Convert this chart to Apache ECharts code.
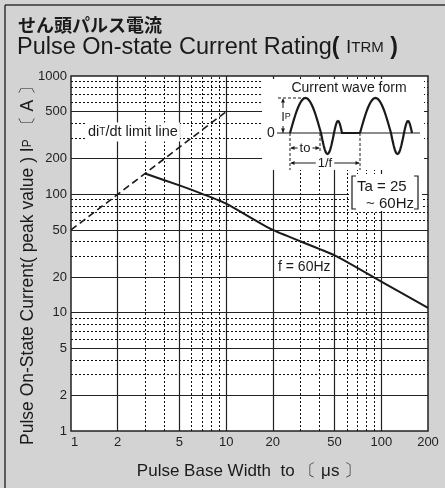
<!DOCTYPE html>
<html><head><meta charset="utf-8">
<script src="https://cdn.jsdelivr.net/npm/echarts@6/dist/echarts.min.js"></script>
<style>html,body{margin:0;padding:0;background:#d3d3d3}#c{width:445px;height:488px}</style>
</head><body><div id="c"></div>
<script>
// ---- data ----
const xTickLabels = [1, 2, 5, 10, 20, 50, 100, 200];
const yTickLabels = [1, 2, 5, 10, 20, 50, 100, 200, 500, 1000];
const xMajorGrid = [2, 5, 10, 20, 50, 100];
const xMinorGrid = [3, 4, 6, 7, 8, 9, 30, 40, 60, 70, 80, 90];
const yMajorGrid = [2, 5, 10, 20, 50, 100, 200, 500];
const yMinorGrid = [3, 4, 6, 7, 8, 9, 30, 40, 60, 70, 80, 90, 300, 400, 600, 700, 800, 900];
const pulseWidth = [3, 5, 7, 10, 20, 50, 100, 200];
const peakCurrent = [150, 119, 101, 83.5, 50, 30.5, 18.3, 11];
const limitWidth = [1, 10];
const limitCurrent = [50, 500];

const NARROW = '"Liberation Sans Narrow", "Liberation Sans", Arial, sans-serif';
const SANS = '"Liberation Sans", Arial, sans-serif';
const INK = '#1a1a1a';

const chart = echarts.init(document.getElementById('c'), null, {renderer: 'canvas'});

function gridLines(vals, axis) {
  return vals.map(v => axis === 'x' ? {xAxis: v} : {yAxis: v});
}

// ---- inset waveform (schematic illustration) ----
const Z = 50;
const y0 = 133;
function halfWave(xa, xb, amp, n) {
  const pts = [];
  for (let i = 0; i <= n; i++) {
    const t = i / n;
    pts.push([xa + (xb - xa) * t, y0 - amp * Math.sin(Math.PI * t)]);
  }
  return pts;
}
function wavePts(off) {
  let p = [];
  p = p.concat(halfWave(290 + off, 321 + off, 35, 24));
  p = p.concat(halfWave(321 + off, 334 + off, -21, 14).slice(1));
  p = p.concat(halfWave(334 + off, 342 + off, 12, 10).slice(1));
  return p;
}
const w1 = wavePts(0).concat([[360, y0]]);
const w2 = wavePts(70);
function arrowHead(x, y, dir) {
  const s = 4, h = 2;
  let pts;
  if (dir === 'l') pts = [[x, y], [x + s, y - h], [x + s, y + h]];
  if (dir === 'r') pts = [[x, y], [x - s, y - h], [x - s, y + h]];
  if (dir === 'u') pts = [[x, y], [x - h, y + s], [x + h, y + s]];
  if (dir === 'd') pts = [[x, y], [x - h, y - s], [x + h, y - s]];
  return {type: 'polygon', z: Z + 2, shape: {points: pts}, style: {fill: INK}};
}
function line(pts, w, dash) {
  return {type: 'polyline', z: Z + 1, shape: {points: pts}, style: {stroke: INK, lineWidth: w, fill: null, lineDash: dash || null}};
}
function txt(x, y, text, size, align, bg) {
  const st = {text: text, fill: INK, font: size + 'px ' + NARROW, textAlign: align || 'left', textVerticalAlign: 'middle'};
  if (bg) { st.backgroundColor = '#fff'; st.padding = [0, 2]; }
  return {type: 'text', z: Z + 3, x: x, y: y, style: st};
}

const graphics = [
  // outer frame lines
  {type: 'line', z: Z, shape: {x1: 5, y1: 5, x2: 445, y2: 5}, style: {stroke: '#333', lineWidth: 1.5}},
  {type: 'line', z: Z, shape: {x1: 5, y1: 5, x2: 5, y2: 488}, style: {stroke: '#333', lineWidth: 1.5}},
  // titles
  {type: 'text', z: Z, x: 18, y: 25, style: {text: 'せん頭パルス電流', fill: INK,
    font: 'bold 18px "Noto Sans CJK JP", sans-serif', textVerticalAlign: 'middle'}},
  {type: 'text', z: Z, x: 17, y: 48, style: {
    text: '{a|Pulse On-state Current Rating}{p|(}{a| }{i|I}{t|TRM}{p| )}',
    textVerticalAlign: 'middle',
    rich: {
      a: {font: '23.5px ' + SANS, fill: INK},
      p: {font: 'bold 23px ' + SANS, fill: INK},
      i: {font: '19px ' + SANS, fill: INK},
      t: {font: '15px ' + SANS, fill: INK}
    }}},
  // axis names
  {type: 'text', z: Z, x: 28, y: 261, rotation: Math.PI / 2, style: {
    text: '{a|Pulse On-State Current( peak value ) I}{s|P}{a| 〔 A 〕}',
    textAlign: 'center', textVerticalAlign: 'middle',
    rich: {a: {font: '17.5px ' + SANS, fill: INK}, s: {font: '12px ' + SANS, fill: INK}}}},
  {type: 'text', z: Z, x: 249, y: 471, style: {
    text: 'Pulse Base Width  to 〔 μs 〕', font: '17px ' + SANS, fill: INK,
    textAlign: 'center', textVerticalAlign: 'middle'}},
  // annotation labels
  {type: 'text', z: Z, x: 86, y: 132, style: {
    text: '{a|di}{s|T}{a|/dt limit line}', textVerticalAlign: 'middle',
    backgroundColor: '#fff', padding: [2, 2, 2, 2],
    rich: {a: {font: '14.5px ' + NARROW, fill: INK}, s: {font: '10px ' + NARROW, fill: INK}}}},
  {type: 'text', z: Z, x: 277, y: 267, style: {
    text: 'f = 60Hz', font: '14px ' + NARROW, fill: INK, textVerticalAlign: 'middle',
    backgroundColor: '#fff', padding: [2, 1, 2, 1]}},
  // Ta box
  {type: 'rect', z: Z, shape: {x: 349, y: 174, width: 73, height: 37}, style: {fill: '#fff'}},
  line([[356, 176], [352, 176], [352, 209], [356, 209]], 1.2),
  line([[414, 176], [418, 176], [418, 209], [414, 209]], 1.2),
  txt(357, 187, 'Ta = 25', 15, 'left'),
  txt(414, 204, '~ 60Hz', 15, 'right'),
  // waveform inset
  {type: 'rect', z: Z, shape: {x: 262, y: 79, width: 162, height: 91}, style: {fill: '#fff'}},
  txt(349, 88, 'Current wave form', 14, 'center'),
  txt(271, y0, '0', 14, 'center'),
  line([[277, y0], [420, y0]], 1.2),
  line(w1, 2.2),
  line(w2, 2.2),
  // Ip indicator
  line([[278, 98], [306, 98]], 1, [3, 2]),
  line([[283, 99], [283, 108]], 1),
  line([[283, 126], [283, 133]], 1),
  arrowHead(283, 98.5, 'u'),
  arrowHead(283, 132.5, 'd'),
  {type: 'text', z: Z + 3, x: 286, y: 117, style: {text: '{a|I}{s|P}', textAlign: 'center', textVerticalAlign: 'middle',
    rich: {a: {font: '13px ' + NARROW, fill: INK}, s: {font: '9px ' + NARROW, fill: INK}}}},
  // to / 1/f
  line([[290, y0], [290, 170]], 1, [3, 2]),
  line([[320, y0], [320, 152]], 1, [3, 2]),
  line([[360, y0], [360, 170]], 1, [3, 2]),
  line([[291, 148], [319, 148]], 1),
  arrowHead(290.5, 148, 'l'), arrowHead(319.5, 148, 'r'),
  txt(305, 148, 'to', 13, 'center', true),
  line([[291, 163], [359, 163]], 1),
  arrowHead(290.5, 163, 'l'), arrowHead(359.5, 163, 'r'),
  txt(325, 163, '1/f', 13, 'center', true)
];

const option = {
  backgroundColor: '#d3d3d3',
  animation: false,
  grid: {left: 71, right: 17, top: 76, bottom: 57, show: true, backgroundColor: '#fff',
    borderColor: '#222', borderWidth: 1.5},
  xAxis: {
    type: 'log', logBase: 10, min: 1, max: 200,
    axisLine: {show: false}, axisTick: {show: false}, splitLine: {show: false}, minorTick: {show: false},
    axisLabel: {customValues: xTickLabels, color: '#222', fontSize: 13, fontFamily: NARROW, margin: 5,
      alignMinLabel: 'left', formatter: v => String(v)}
  },
  yAxis: {
    type: 'log', logBase: 10, min: 1, max: 1000,
    axisLine: {show: false}, axisTick: {show: false}, splitLine: {show: false}, minorTick: {show: false},
    axisLabel: {customValues: yTickLabels, color: '#222', fontSize: 13, fontFamily: NARROW, margin: 4,
      formatter: v => String(v)}
  },
  series: [
    {type: 'line', data: [[1, 1]], showSymbol: false, silent: true, lineStyle: {opacity: 0},
      markLine: {silent: true, symbol: ['none', 'none'], label: {show: false},
        lineStyle: {color: '#222', width: 1.2, type: 'solid'},
        data: gridLines(xMajorGrid, 'x').concat(gridLines(yMajorGrid, 'y'))}},
    {type: 'line', data: [[1, 1]], showSymbol: false, silent: true, lineStyle: {opacity: 0},
      markLine: {silent: true, symbol: ['none', 'none'], label: {show: false},
        lineStyle: {color: '#111', width: 1, type: [2, 2]},
        data: gridLines(xMinorGrid, 'x').concat(gridLines(yMinorGrid, 'y'))}},
    {type: 'line', z: 5, data: limitWidth.map((v, i) => [v, limitCurrent[i]]), showSymbol: false,
      lineStyle: {color: INK, width: 1.6, type: [7, 4]}},
    {type: 'line', z: 5, data: pulseWidth.map((v, i) => [v, peakCurrent[i]]), showSymbol: false, smooth: 0.2,
      lineStyle: {color: INK, width: 2}}
  ],
  graphic: {elements: graphics}
};
chart.setOption(option);
</script>
</body></html>
